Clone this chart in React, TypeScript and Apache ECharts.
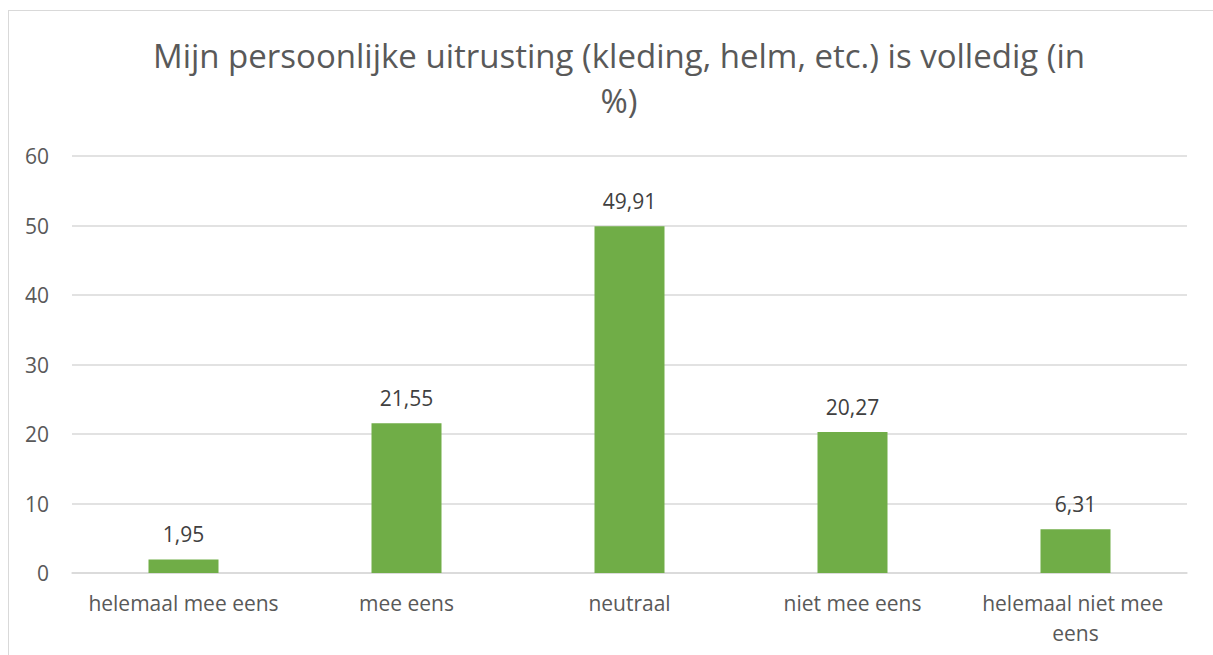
import React, { useEffect, useRef } from "react";
import * as echarts from "echarts";

const categories = ["helemaal mee eens", "mee eens", "neutraal", "niet mee eens", "helemaal niet mee eens"];
const values = [1.95, 21.55, 49.91, 20.27, 6.31];
const titleText = "Mijn persoonlijke uitrusting (kleding, helm, etc.) is volledig (in\n%)";

export default function App() {
  const ref = useRef<HTMLDivElement>(null);
  useEffect(() => {
    const chart = echarts.init(ref.current!, null, { renderer: "svg" });
    const font = "'Open Sans', sans-serif";
    chart.setOption({
      animation: false,
      backgroundColor: "#ffffff",
      title: {
        text: titleText,
        left: 614,
        textAlign: "center",
        top: 28,
        textStyle: { fontFamily: font, fontSize: 33, fontWeight: "normal", color: "#595959", lineHeight: 45 },
      },
      grid: { left: 72, right: 26, top: 156, bottom: 82 },
      xAxis: {
        type: "category",
        data: categories,
        axisLine: { show: true, lineStyle: { color: "#d9d9d9", width: 1.5 } },
        axisTick: { show: false },
        axisLabel: {
          interval: 0,
          fontFamily: font,
          fontSize: 21,
          color: "#595959",
          margin: 15,
          width: 205,
          overflow: "break",
          lineHeight: 30,
        },
      },
      yAxis: {
        type: "value",
        min: 0,
        max: 60,
        interval: 10,
        axisLine: { show: false },
        axisTick: { show: false },
        splitLine: { lineStyle: { color: "#d9d9d9", width: 1.5 } },
        axisLabel: { fontFamily: font, fontSize: 21, color: "#595959", margin: 23 },
      },
      series: [
        {
          type: "bar",
          data: values,
          barWidth: 70,
          itemStyle: { color: "#70ad47" },
          label: {
            show: true,
            position: "top",
            distance: 15,
            fontFamily: font,
            fontSize: 21,
            color: "#404040",
            formatter: (p: any) => String(p.value).replace(".", ","),
          },
        },
      ],
    });
    return () => chart.dispose();
  }, []);
  return (
    <div style={{ position: "absolute", left: 0, top: 0, width: 1213, height: 655, overflow: "hidden", background: "#fff" }}>
      <div ref={ref} style={{ position: "absolute", left: 0, top: 0, width: 1213, height: 655 }} />
      <div
        style={{
          position: "absolute",
          left: 8,
          top: 10,
          width: 1300,
          height: 700,
          borderLeft: "1.5px solid #d9d9d9",
          borderTop: "1.5px solid #d9d9d9",
          pointerEvents: "none",
        }}
      />
    </div>
  );
}
